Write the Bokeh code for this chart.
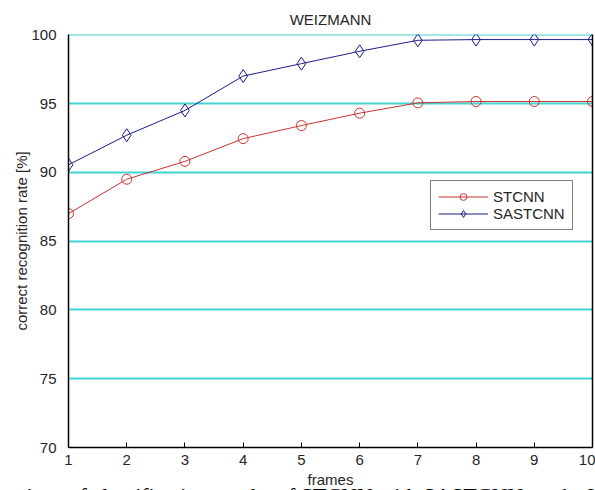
from bokeh.plotting import figure
from bokeh.models import Range1d, LinearAxis, FixedTicker, Legend, LegendItem, Title
from bokeh.embed import file_html
from bokeh.resources import INLINE

frames = [1, 2, 3, 4, 5, 6, 7, 8, 9, 10]
stcnn = [87.0, 89.5, 90.8, 92.45, 93.4, 94.3, 95.05, 95.15, 95.15, 95.15]
sastcnn = [90.55, 92.7, 94.5, 97.0, 97.9, 98.8, 99.6, 99.65, 99.65, 99.65]
y_ticks = [70, 75, 80, 85, 90, 95, 100]
x_ticks = [1, 2, 3, 4, 5, 6, 7, 8, 9, 10]
caption_text = "Comparison of classification results of STCNN with SASTCNN on the WEIZMANN dataset."

FONT = "Liberation Sans"
TXT = "#262626"

p = figure(width=595, height=490, output_backend="svg", toolbar_location=None,
           x_range=Range1d(1, 10), y_range=Range1d(70, 100.02),
           min_border_left=68, min_border_right=3, min_border_top=34, min_border_bottom=43,
           title="WEIZMANN")
p.background_fill_color = "white"
p.border_fill_color = "white"
p.outline_line_color = None

p.title.align = "center"
p.title.text_font = FONT
p.title.text_font_size = "15px"
p.title.text_font_style = "normal"
p.title.text_color = TXT
p.title.standoff = 14

for ax in (p.xaxis[0], p.yaxis[0]):
    ax.axis_line_color = "black"
    ax.axis_line_width = 1.5
    ax.major_label_text_font = FONT
    ax.major_label_text_font_size = "15px"
    ax.major_label_text_color = TXT
    ax.axis_label_text_font = FONT
    ax.axis_label_text_font_size = "15px"
    ax.axis_label_text_font_style = "normal"
    ax.axis_label_text_color = TXT
    ax.minor_tick_line_color = None

p.xaxis.ticker = FixedTicker(ticks=x_ticks)
p.yaxis.ticker = FixedTicker(ticks=y_ticks)
p.xaxis.major_tick_in = 5
p.xaxis.major_tick_out = 0
p.xaxis.major_tick_line_color = "black"
p.xaxis.major_label_standoff = 7
p.xaxis.axis_label = "frames"
p.xaxis.axis_label_standoff = 3
p.yaxis.major_tick_line_color = None
p.yaxis.major_label_standoff = 6
p.yaxis.axis_label = "correct recognition rate [%]"
p.yaxis.axis_label_standoff = -2

right = LinearAxis(ticker=FixedTicker(ticks=[]), axis_line_color="black", axis_line_width=1.5,
                   major_tick_line_color=None, minor_tick_line_color=None,
                   major_label_text_font_size="0px")
p.add_layout(right, "right")

p.xgrid.grid_line_color = None
p.ygrid.ticker = FixedTicker(ticks=y_ticks[1:])
p.ygrid.grid_line_color = "#45d4d4"
p.ygrid.grid_line_width = 2

red = "#c83232"
blue = "#1c1c88"
l1 = p.line(frames, stcnn, line_color=red, line_width=1)
s1 = p.scatter(frames, stcnn, marker="circle", size=10, line_color=red, fill_color=None, line_width=1)
l2 = p.line(frames, sastcnn, line_color=blue, line_width=1)
s2 = p.scatter(frames, sastcnn, marker="diamond", size=13, line_color=blue, fill_color=None, line_width=1)

legend = Legend(items=[LegendItem(label="STCNN", renderers=[l1, s1]),
                       LegendItem(label="SASTCNN", renderers=[l2, s2])],
                location=(362, 217), glyph_width=50, glyph_height=17, label_height=17,
                label_standoff=5, spacing=0, padding=7, margin=0,
                border_line_color="black", border_line_width=1,
                background_fill_color="white", background_fill_alpha=1,
                label_text_font=FONT, label_text_font_size="15px", label_text_color=TXT)
p.add_layout(legend, "center")

# paper caption below the figure, only its top edge is visible (as in the reference)
caption = Title(text="\n" + caption_text, align="left", offset=-113, standoff=-38,
                vertical_align="top", text_font="Liberation Serif", text_font_size="22px",
                text_font_style="normal", text_color="black", text_line_height=0.45)
p.add_layout(caption, "below")

open("out.html", "w").write(file_html(p, INLINE))
